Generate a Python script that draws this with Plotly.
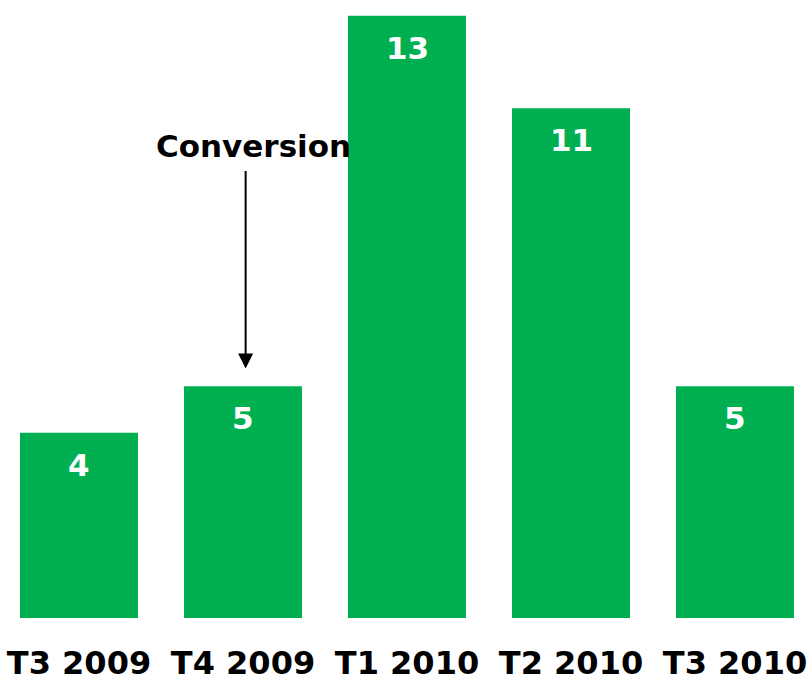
import plotly.graph_objects as go

categories = ["T3 2009", "T4 2009", "T1 2010", "T2 2010", "T3 2010"]
values = [4, 5, 13, 11, 5]
annotation_text = "Conversion"
annotated_index = 1

GREEN = "#00B050"
FONT = "DejaVu Sans"

fig = go.Figure(go.Bar(
    x=categories,
    y=values,
    marker=dict(color=GREEN, line=dict(width=0)),
    width=118 / 164,
    hoverinfo="skip",
))

annotations = []
for c, v in zip(categories, values):
    annotations.append(dict(
        x=c, y=v, xref="x", yref="y", text=str(v), showarrow=False,
        yanchor="top", yshift=-12,
        font=dict(family=FONT, size=31, color="white", weight="bold"),
    ))

# arrow pointing to annotated bar
cat_idx = annotated_index
annotations.append(dict(
    x=cat_idx + 0.016, y=values[cat_idx] + 0.385, xref="x", yref="y",
    ax=cat_idx + 0.016, ay=values[cat_idx] + 4.68, axref="x", ayref="y",
    text="", showarrow=True, arrowhead=2, arrowwidth=2, arrowsize=1.5,
    arrowcolor="black", standoff=0, startstandoff=0,
))
annotations.append(dict(
    x=cat_idx + 0.061, y=values[cat_idx] + 5.18, xref="x", yref="y",
    text=annotation_text, showarrow=False, xanchor="center", yanchor="middle",
    font=dict(family=FONT, size=31, color="black", weight="bold"),
))

fig.update_layout(
    width=811, height=678,
    margin=dict(l=0, r=0, t=0, b=60, autoexpand=False),
    paper_bgcolor="white", plot_bgcolor="white",
    showlegend=False,
    annotations=annotations,
    xaxis=dict(
        type="category",
        range=[-79 / 164, -79 / 164 + 811 / 164],
        showgrid=False, zeroline=False, showline=False, ticks="",
        automargin=False,
        ticklabelstandoff=23,
        tickfont=dict(family=FONT, size=32, color="black", weight="bold"),
        fixedrange=True,
    ),
    yaxis=dict(
        range=[0, 618 / 46.33],
        visible=False, showgrid=False, zeroline=False, fixedrange=True,
    ),
)

fig.write_html("out.html", config={"displayModeBar": False})
